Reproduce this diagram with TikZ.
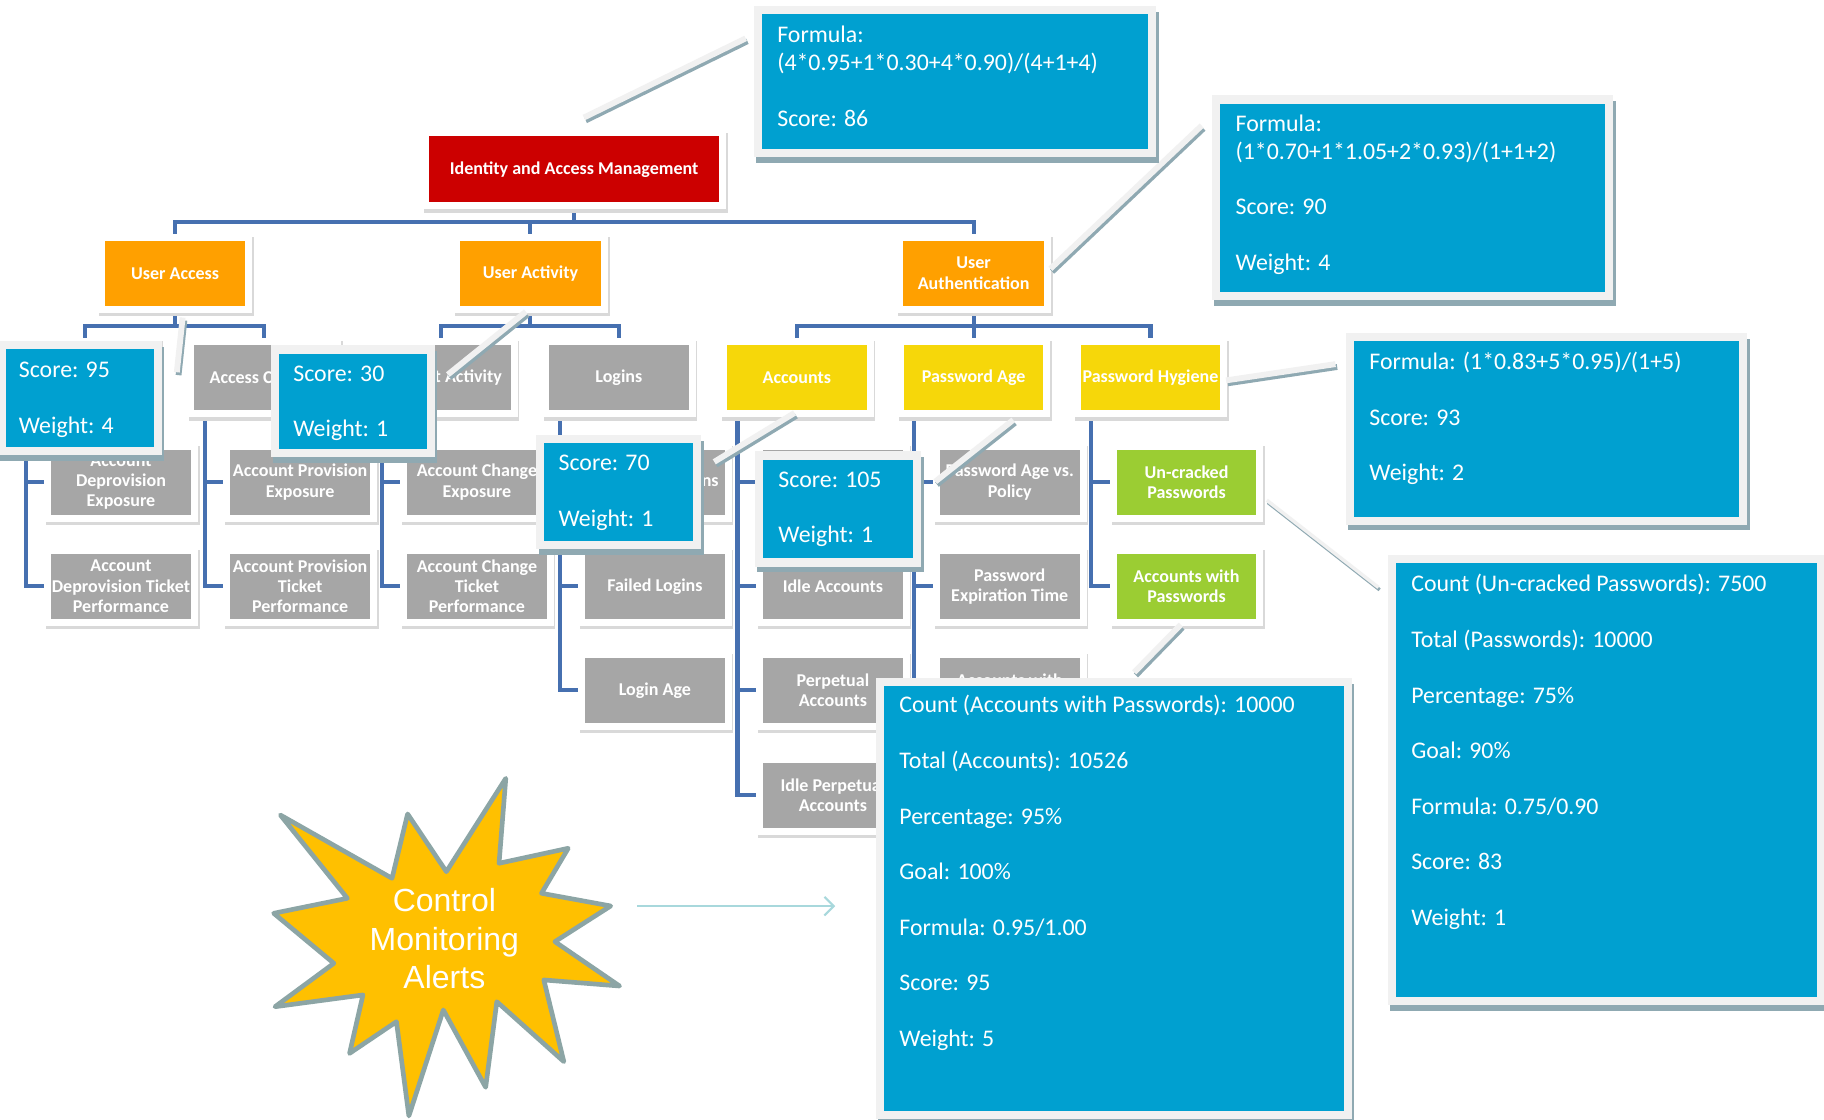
\documentclass[tikz,border=0pt]{standalone}
\usepackage{fontspec}
\setmainfont{Carlito}
\newfontfamily\starfont{Liberation Sans}
\usetikzlibrary{arrows.meta,calc}
\pgfdeclarelayer{background}
\pgfsetlayers{background,main}
\definecolor{cblue}{HTML}{00A0D0}
\definecolor{cframe}{HTML}{F1F1F1}
\definecolor{cshad}{HTML}{8FA9B2}
\definecolor{corg}{HTML}{4670B0}
\definecolor{cgrey}{HTML}{A6A6A6}
\definecolor{cred}{HTML}{CC0000}
\definecolor{corange}{HTML}{FFA000}
\definecolor{cyellow}{HTML}{F6D70A}
\definecolor{cgreen}{HTML}{9BCD33}
\definecolor{cstar}{HTML}{FFC000}
\definecolor{cstarline}{HTML}{8CA5A5}
\definecolor{carrow}{HTML}{A8D8DC}
\begin{document}
\begin{tikzpicture}[x=1pt,y=-1pt,
  orgbox/.style={draw=white, line width=6pt, minimum width=126pt, minimum height=62pt,
    inner sep=2pt, align=center, text=white,
    font=\fontsize{15.5}{17.5}\selectfont\bfseries,
    preaction={draw=black!15, fill=black!15, line width=6pt, transform canvas={xshift=1.5pt,yshift=-3pt}}},
  greybox/.style={orgbox, fill=cgrey},
  ybox/.style={orgbox, fill=cyellow},
  gbox/.style={orgbox, fill=cgreen},
  l2box/.style={orgbox, fill=corange, minimum width=127pt},
  rootbox/.style={orgbox, fill=cred, minimum width=255pt, minimum height=63pt},
  orgline/.style={draw=corg, line width=3.5pt},
  callout/.style={fill=cblue, draw=cframe, line width=7pt, inner sep=0pt,
    preaction={fill=cshad, draw=cshad, line width=7pt, transform canvas={xshift=2pt,yshift=-5pt}}},
  ctext/.style={text=white, align=left, inner sep=0pt, anchor=north west,
    font=\fontsize{20.5}{23.9}\selectfont},
  ribbon/.style={draw=cframe, line width=5pt,
    preaction={draw=cshad, line width=5pt, transform canvas={xshift=1.5pt,yshift=-2.5pt}}},
  thinribbon/.style={draw=cframe, line width=3pt,
    preaction={draw=cshad, line width=3pt, transform canvas={xshift=1pt,yshift=-2pt}}},
  startext/.style={text=white, align=center, inner sep=0pt, font=\starfont\fontsize{27.5}{33}\selectfont}
]
\useasboundingbox (0,0) rectangle (1568,962);
\begin{pgfonlayer}{background}
\fill[white] (0,0) rectangle (1568,962);
\end{pgfonlayer}

% ---------- org chart boxes ----------
\node[rootbox] (root) at (493.5,145.5) {Identity and Access Management};

\node[l2box] (ua) at (150.5,235) {User Access};
\node[l2box] (uact) at (456,235) {User Activity};
\node[l2box] (uauth) at (837,235) {User\\Authentication};

\node[greybox] (l3a) at (73,324.5) {};
\node[greybox] (l3b) at (227,324.5) {Access Control};
\node[greybox] (l3c) at (379,324.5) {Account Activity};
\node[greybox] (l3d) at (532,324.5) {Logins};
\node[ybox] (l3e) at (685,324.5) {Accounts};
\node[ybox] (l3f) at (837,324.5) {Password Age};
\node[ybox] (l3g) at (989,324.5) {Password Hygiene};

\node[greybox] (l4a1) at (104,414.5) {Account\\Deprovision\\Exposure};
\node[greybox] (l4a2) at (104,504) {Account\\Deprovision Ticket\\Performance};
\node[greybox] (l4b1) at (258,414.5) {Account Provision\\Exposure};
\node[greybox] (l4b2) at (258,504) {Account Provision\\Ticket\\Performance};
\node[greybox] (l4c1) at (410,414.5) {Account Change\\Exposure};
\node[greybox] (l4c2) at (410,504) {Account Change\\Ticket\\Performance};
\node[greybox] (l4d1) at (563,414.5) {Successful Logins};
\node[greybox] (l4d2) at (563,504) {Failed Logins};
\node[greybox] (l4d3) at (563,593.5) {Login Age};
\node[greybox] (l4e1) at (716,414.5) {};
\node[greybox] (l4e2) at (716,504) {Idle Accounts};
\node[greybox] (l4e3) at (716,593.5) {Perpetual\\Accounts};
\node[greybox] (l4e4) at (716,683.5) {Idle Perpetual\\Accounts};
\node[greybox] (l4f1) at (868,414.5) {Password Age vs.\\Policy};
\node[greybox] (l4f2) at (868,504) {Password\\Expiration Time};
\node[greybox] (l4f3) at (868,593.5) {Accounts with\\\mbox{}};
\node[gbox] (l4g1) at (1020,414.5) {Un-cracked\\Passwords};
\node[gbox] (l4g2) at (1020,504) {Accounts with\\Passwords};

% ---------- org connectors ----------
\begin{pgfonlayer}{background}
\draw[orgline] (root.center) -- ++(0,45.5) -| (ua.center);
\draw[orgline] (root.center) -- ++(0,45.5) -| (uact.center);
\draw[orgline] (root.center) -- ++(0,45.5) -| (uauth.center);
\draw[orgline] (ua.center) -- ++(0,45) -| (l3a.center);
\draw[orgline] (ua.center) -- ++(0,45) -| (l3b.center);
\draw[orgline] (uact.center) -- ++(0,45) -| (l3c.center);
\draw[orgline] (uact.center) -- ++(0,45) -| (l3d.center);
\draw[orgline] (uauth.center) -- ++(0,45) -| (l3e.center);
\draw[orgline] (uauth.center) -- ++(0,45) -| (l3f.center);
\draw[orgline] (uauth.center) -- ++(0,45) -| (l3g.center);
\foreach \p/\c in {l3a/l4a1,l3a/l4a2,l3b/l4b1,l3b/l4b2,l3c/l4c1,l3c/l4c2,
  l3d/l4d1,l3d/l4d2,l3d/l4d3,l3e/l4e1,l3e/l4e2,l3e/l4e3,l3e/l4e4,
  l3f/l4f1,l3f/l4f2,l3f/l4f3,l3g/l4g1,l3g/l4g2}
  \draw[orgline] ([xshift=-51pt]\p.center) |- (\c.center);
\end{pgfonlayer}

% ---------- callout connectors ----------
\coordinate (k1s) at (641,33);   \coordinate (k1e) at (502,101);
\coordinate (k2s) at (157,273);  \coordinate (k2e) at (152,320);
\coordinate (k3s) at (452,268);  \coordinate (k3e) at (385,322);
\coordinate (k4s) at (1033,108); \coordinate (k4e) at (903,231);
\coordinate (k5s) at (683,355);  \coordinate (k5e) at (614,397);
\coordinate (k6s) at (871,361);  \coordinate (k6e) at (804,414);
\coordinate (k7s) at (1148,313); \coordinate (k7e) at (1054,327);
\coordinate (k8s) at (1089,430); \coordinate (k8e) at (1185,505);
\coordinate (k9s) at (1015,537); \coordinate (k9e) at (975,578);
\draw[ribbon] (k1s) -- (k1e);
\draw[ribbon] (k2s) -- (k2e);
\draw[ribbon] (k3s) -- (k3e);
\draw[ribbon] (k4s) -- (k4e);
\draw[ribbon] (k5s) -- (k5e);
\draw[ribbon] (k6s) -- (k6e);
\draw[ribbon] (k7s) -- (k7e);
\draw[thinribbon] (k8s) -- (k8e);
\draw[ribbon] (k9s) -- (k9e);

% ---------- callouts ----------
\node[callout, minimum width=339pt, minimum height=123pt] (c1) at (821,70) {};
\node[ctext] (t1) at (668,19.9) {\strut Formula:\\(4*0.95+1*0.30+4*0.90)/(4+1+4)\\[23.9pt]Score: 86};

\node[callout, minimum width=338pt, minimum height=169pt] (c2) at (1214.5,170) {};
\node[ctext] (t2) at (1062,95.9) {\strut Formula:\\(1*0.70+1*1.05+2*0.93)/(1+1+2)\\[23.9pt]Score: 90\\[23.9pt]Weight: 4};

\node[callout, minimum width=338pt, minimum height=158pt] (c3) at (1329.5,368.5) {};
\node[ctext] (t3) at (1177,300.9) {\strut Formula: (1*0.83+5*0.95)/(1+5)\\[23.9pt]Score: 93\\[23.9pt]Weight: 2};

\node[callout, minimum width=369pt, minimum height=380pt] (c4) at (1381,670.5) {};
\node[ctext] (t4) at (1213,491.9) {\strut Count (Un-cracked Passwords): 7500\\[23.9pt]Total (Passwords): 10000\\[23.9pt]Percentage: 75\%\\[23.9pt]Goal: 90\%\\[23.9pt]Formula: 0.75/0.90\\[23.9pt]Score: 83\\[23.9pt]Weight: 1};

\node[callout, minimum width=402pt, minimum height=372pt] (c5) at (957.5,772.5) {};
\node[ctext] (t5) at (773,595.9) {\strut Count (Accounts with Passwords): 10000\\[23.9pt]Total (Accounts): 10526\\[23.9pt]Percentage: 95\%\\[23.9pt]Goal: 100\%\\[23.9pt]Formula: 0.95/1.00\\[23.9pt]Score: 95\\[23.9pt]Weight: 5};

\node[callout, minimum width=134pt, minimum height=91pt] (s95) at (68.5,342) {};
\node[ctext] (s95t) at (16,307.9) {\strut Score: 95\\[23.9pt]Weight: 4};

\node[callout, minimum width=134pt, minimum height=89pt] (s30) at (303.5,345) {};
\node[ctext] (s30t) at (252,310.9) {\strut Score: 30\\[23.9pt]Weight: 1};

\node[callout, minimum width=135pt, minimum height=91pt] (s70) at (532,423) {};
\node[ctext] (s70t) at (480,387.9) {\strut Score: 70\\[23.9pt]Weight: 1};

\node[callout, minimum width=136pt, minimum height=92pt] (s105) at (720.5,437.5) {};
\node[ctext] (s105t) at (669,401.9) {\strut Score: 105\\[23.9pt]Weight: 1};

% ---------- star ----------
\draw[fill=cstar, draw=cstarline, line width=4pt, line join=round]
  (434.8,669.1) -- (429.0,742.1) -- (488.5,729.2) -- (465.5,767.9) -- (525.0,778.8)
  -- (477.0,809.5) -- (532.6,847.6) -- (467.5,842.4) -- (484.7,912.6) -- (427.1,861.1)
  -- (417.5,934.7) -- (381.1,868.2) -- (351.5,959.3) -- (340.8,878.3) -- (300.5,905.5)
  -- (312.0,855.3) -- (236.4,865.4) -- (287.0,828.1) -- (235.3,785.1) -- (298.6,772.2)
  -- (241.0,700.6) -- (337.0,755.0) -- (350.4,699.7) -- (383.7,749.3) -- cycle;
\node[startext] (star) at (382,807) {Control\\Monitoring\\Alerts};

\coordinate (arrS) at (548,779);
\coordinate (arrE) at (718,779);
\draw[draw=carrow, line width=1.8pt, -{Straight Barb[length=8pt,width=16pt]}] (arrS) -- (arrE);
\end{tikzpicture}
\end{document}
